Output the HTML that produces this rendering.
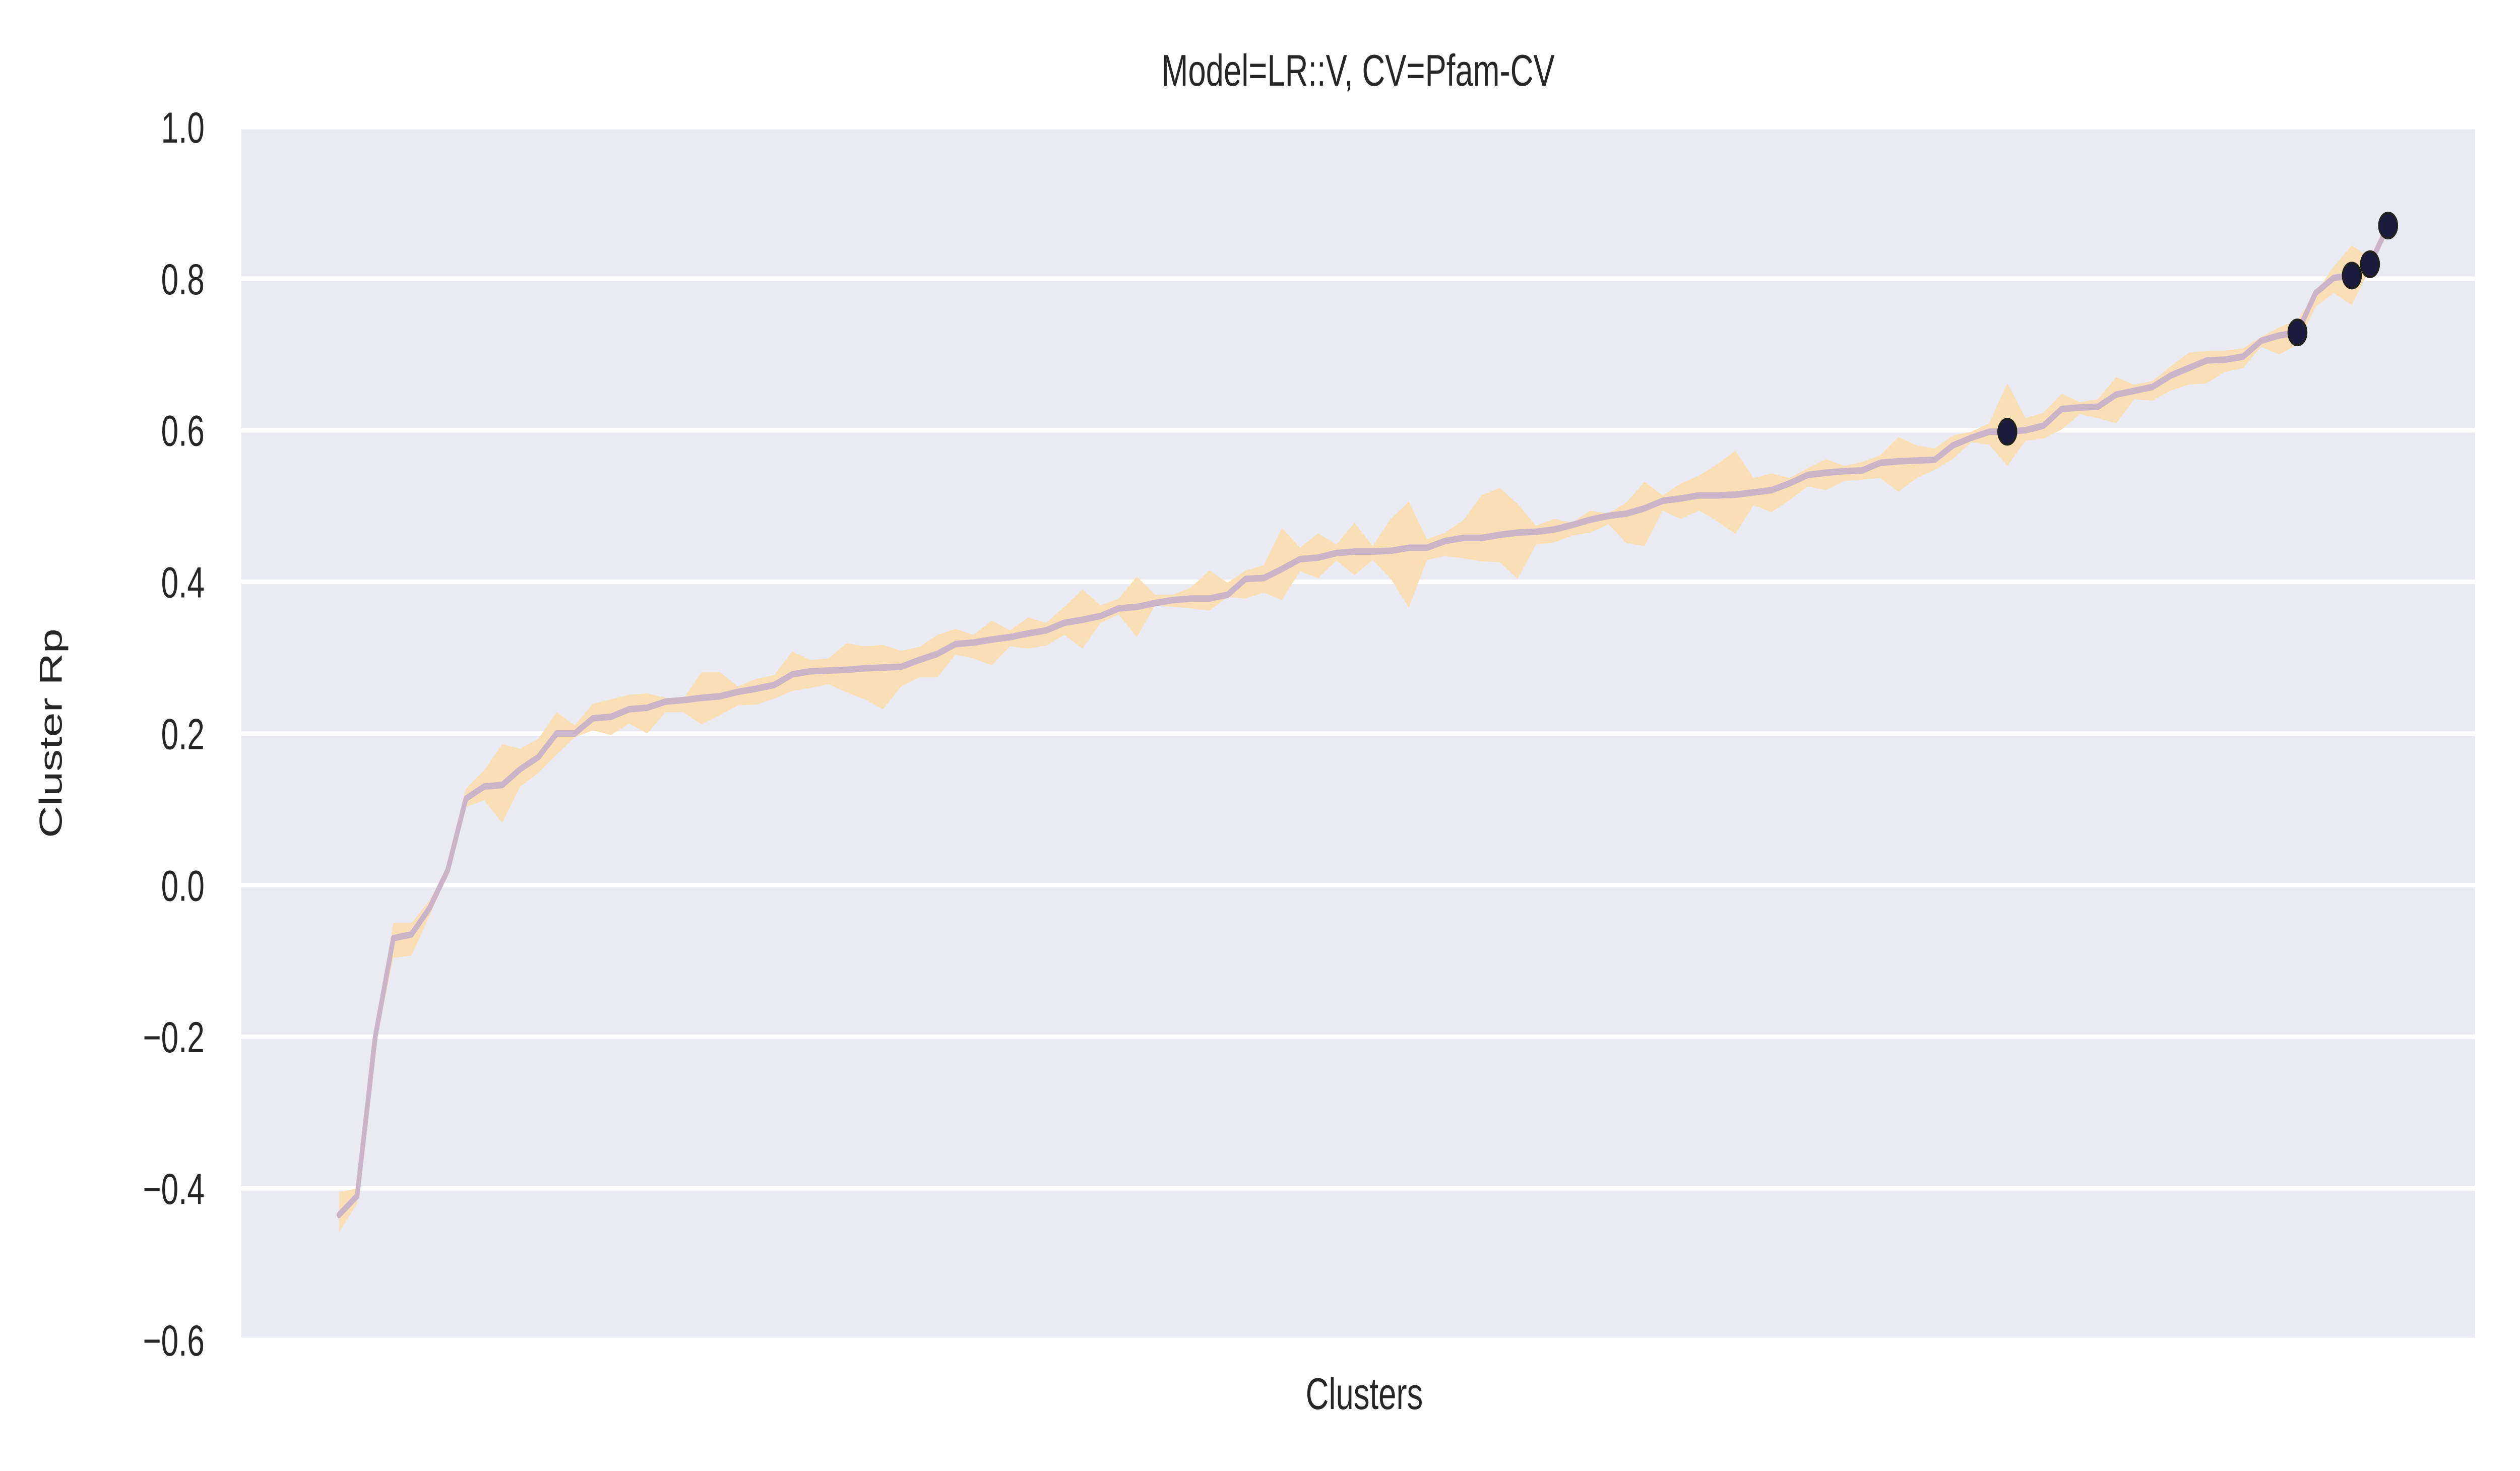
<!DOCTYPE html>
<html><head><meta charset="utf-8"><style>
html,body{margin:0;padding:0;background:#fff;width:100%;height:100%;overflow:hidden;}
svg{display:block;width:100vw;height:100vh;}
text{font-family:"Liberation Sans","DejaVu Sans",sans-serif;fill:#262626;}
</style></head><body>
<svg id="chart" viewBox="0 0 6936 2919" preserveAspectRatio="none" xmlns="http://www.w3.org/2000/svg">
<rect x="664" y="252" width="6148" height="2407" fill="#eaeaf2"/>
<g id="grid"></g>
<g id="yticks"></g>
<path id="band" fill="#f9dfb5"/>
<path id="line" fill="none" stroke="#cbb4c8" stroke-width="13" stroke-linejoin="round" stroke-linecap="round"/>
<g id="dots"></g>
<text x="3738" y="170" font-size="88" text-anchor="middle">Model=LR::V, CV=Pfam-CV</text>
<text x="3755" y="2796" font-size="88" text-anchor="middle">Clusters</text>
<text x="0" y="0" font-size="88" text-anchor="middle" transform="translate(170,1455) rotate(-90)">Cluster Rp</text>
</svg>
<script>
const yTicks=[-0.6,-0.4,-0.2,0.0,0.2,0.4,0.6,0.8,1.0];
const yTickLabels=["\u22120.6","\u22120.4","\u22120.2","0.0","0.2","0.4","0.6","0.8","1.0"];
const meanValues=[-0.435,-0.41,-0.2,-0.07,-0.065,-0.03,0.02,0.114,0.13,0.132,0.153,0.169,0.2,0.2,0.22,0.222,0.232,0.234,0.242,0.244,0.247,0.249,0.255,0.259,0.264,0.278,0.282,0.283,0.284,0.286,0.287,0.288,0.297,0.305,0.318,0.32,0.324,0.327,0.332,0.336,0.346,0.35,0.355,0.365,0.367,0.372,0.376,0.378,0.378,0.383,0.404,0.405,0.417,0.43,0.432,0.438,0.44,0.44,0.441,0.445,0.445,0.454,0.458,0.458,0.462,0.465,0.466,0.469,0.475,0.482,0.487,0.49,0.497,0.507,0.51,0.514,0.514,0.515,0.518,0.521,0.53,0.541,0.544,0.546,0.547,0.557,0.559,0.56,0.561,0.58,0.59,0.598,0.598,0.6,0.606,0.628,0.63,0.631,0.647,0.652,0.657,0.672,0.682,0.692,0.693,0.697,0.718,0.725,0.729,0.781,0.801,0.804,0.819,0.87];
const upperValues=[-0.405,-0.4,-0.19,-0.05,-0.05,-0.02,0.025,0.127,0.151,0.186,0.18,0.193,0.228,0.211,0.239,0.245,0.251,0.253,0.247,0.246,0.281,0.281,0.262,0.272,0.277,0.308,0.297,0.299,0.319,0.315,0.317,0.309,0.314,0.33,0.338,0.33,0.349,0.336,0.353,0.346,0.367,0.39,0.369,0.378,0.407,0.383,0.383,0.393,0.415,0.399,0.415,0.422,0.471,0.445,0.464,0.449,0.478,0.447,0.483,0.506,0.456,0.465,0.481,0.514,0.524,0.503,0.474,0.483,0.478,0.494,0.49,0.505,0.532,0.514,0.53,0.54,0.555,0.573,0.537,0.543,0.537,0.55,0.562,0.553,0.558,0.567,0.591,0.58,0.576,0.593,0.598,0.609,0.662,0.616,0.623,0.648,0.637,0.641,0.67,0.66,0.665,0.684,0.702,0.705,0.705,0.708,0.723,0.736,0.745,0.781,0.816,0.844,0.827,0.87];
const lowerValues=[-0.458,-0.42,-0.21,-0.096,-0.093,-0.04,0.015,0.103,0.112,0.082,0.13,0.148,0.172,0.195,0.204,0.198,0.213,0.2,0.228,0.228,0.212,0.224,0.237,0.238,0.246,0.256,0.26,0.265,0.254,0.245,0.232,0.262,0.274,0.274,0.304,0.299,0.29,0.315,0.312,0.316,0.33,0.312,0.346,0.357,0.327,0.369,0.367,0.365,0.362,0.38,0.378,0.386,0.376,0.414,0.405,0.428,0.409,0.429,0.404,0.366,0.429,0.434,0.431,0.427,0.426,0.404,0.449,0.452,0.461,0.465,0.476,0.451,0.447,0.494,0.483,0.494,0.48,0.463,0.501,0.492,0.508,0.526,0.521,0.533,0.535,0.537,0.519,0.537,0.548,0.562,0.584,0.581,0.553,0.586,0.589,0.601,0.621,0.616,0.609,0.641,0.639,0.652,0.66,0.662,0.677,0.682,0.71,0.7,0.713,0.763,0.781,0.765,0.813,0.87];
const highlightIdx=[92,108,111,112,113];

const NS="http://www.w3.org/2000/svg";
const L=664,R=6812,T=252,B=2659,Y0=-0.6,Y1=1.0;
const X0px=933,X1px=6573;
function xs(i){return X0px+(X1px-X0px)*i/(meanValues.length-1);}
function ys(v){return B-(v-Y0)/(Y1-Y0)*(B-T);}

const grid=document.getElementById('grid'),yt=document.getElementById('yticks');
yTicks.forEach((v,k)=>{
  const ln=document.createElementNS(NS,'line');
  ln.setAttribute('x1',L);ln.setAttribute('x2',R);ln.setAttribute('y1',ys(v));ln.setAttribute('y2',ys(v));
  ln.setAttribute('stroke','#fff');ln.setAttribute('stroke-width','9');
  
  
  grid.appendChild(ln);
  const t=document.createElementNS(NS,'text');
  t.setAttribute('x',563);t.setAttribute('y',ys(v)+31);t.setAttribute('font-size','86');t.setAttribute('text-anchor','end');
  t.textContent=yTickLabels[k];
  
  
  yt.appendChild(t);
});
let d='';
upperValues.forEach((v,i)=>{d+=(i?'L':'M')+xs(i).toFixed(1)+','+ys(v).toFixed(1);});
for(let i=lowerValues.length-1;i>=0;i--){d+='L'+xs(i).toFixed(1)+','+ys(lowerValues[i]).toFixed(1);}
document.getElementById('band').setAttribute('d',d+'Z');
let ld='';
meanValues.forEach((v,i)=>{ld+=(i?'L':'M')+xs(i).toFixed(1)+','+ys(v).toFixed(1);});
document.getElementById('line').setAttribute('d',ld);
const dots=document.getElementById('dots');
highlightIdx.forEach(i=>{
  const c=document.createElementNS(NS,'circle');
  c.setAttribute('cx',xs(i));c.setAttribute('cy',ys(meanValues[i]));c.setAttribute('r','25');
  c.setAttribute('fill','#1b1b3f');c.setAttribute('stroke','#202020');c.setAttribute('stroke-width','5');
  
  
  dots.appendChild(c);
});
</script>
</body></html>
